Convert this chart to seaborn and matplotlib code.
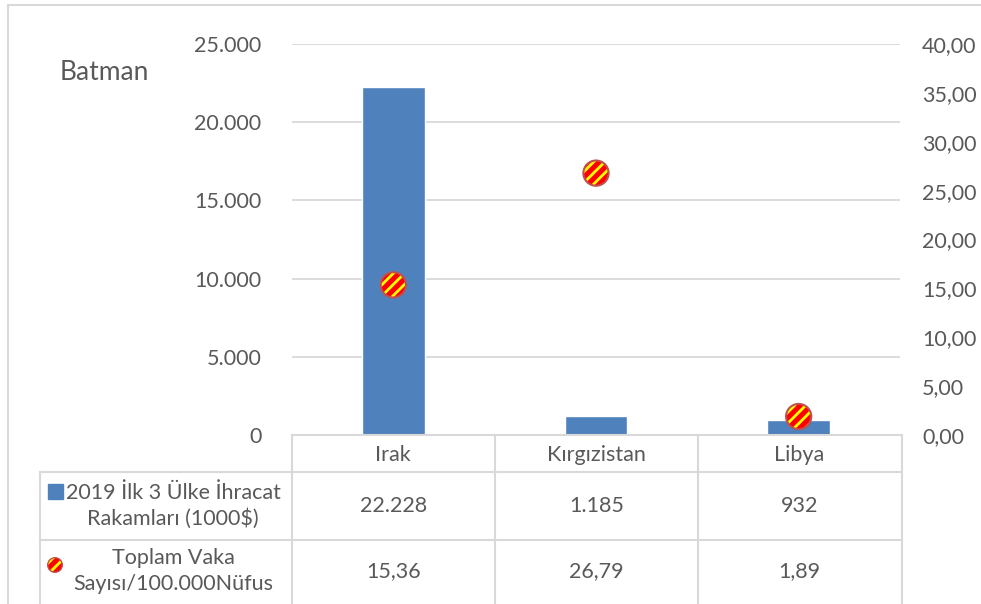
import matplotlib
matplotlib.use("Agg")
import matplotlib.pyplot as plt
from matplotlib.ticker import FuncFormatter, MultipleLocator
from matplotlib.lines import Line2D
from matplotlib.patches import Rectangle
import seaborn as sns

countries = ["Irak", "Kırgızistan", "Libya"]
ihracat = [22228, 1185, 932]
vaka = [15.36, 26.79, 1.89]
bar_label = "2019 İlk 3 Ülke İhracat\nRakamları (1000$)"
dot_label = "Toplam Vaka\nSayısı/100.000Nüfus"
city = "Batman"

BLUE = "#4F81BD"
TXT = "#595959"
GRID = "#D9D9D9"
W, H = 981, 604
FS = 15.5

sns.set_theme(style="white")
plt.rcParams["font.family"] = ["Lato", "DejaVu Sans"]
plt.rcParams["hatch.linewidth"] = 2.0

fig = plt.figure(figsize=(W / 100, H / 100), dpi=100)

def fx(px):
    return px / W

def fy(py):
    return 1 - py / H

x0, x1, ytop, ybot = 292, 900, 44, 435
ax = fig.add_axes([fx(x0), fy(ybot), fx(x1 - x0), fy(ytop) - fy(ybot)])
sns.barplot(x=countries, y=ihracat, color=BLUE, width=0.31, saturation=1, ax=ax)
ax.set_xlim(-0.5, 2.5)
ax.set_ylim(0, 25000)
ax.yaxis.set_major_locator(MultipleLocator(5000))
ax.yaxis.set_major_formatter(FuncFormatter(lambda v, p: f"{v:,.0f}".replace(",", ".")))
ax.grid(axis="y", color=GRID, linewidth=1.3)
ax.set_axisbelow(True)
for s in ax.spines.values():
    s.set_visible(False)
ax.tick_params(axis="y", length=0, labelsize=FS, labelcolor=TXT, pad=22)
ax.tick_params(axis="x", length=0, labelsize=FS, labelcolor=TXT, pad=7)
ax.set_xlabel("")
ax.set_ylabel("")
ax.set_xticks(range(len(countries)))
ax.set_xticklabels(countries)

ax2 = ax.twinx()
sns.scatterplot(x=countries, y=vaka, s=330, color="#FF0000", edgecolor="#FFFF00",
                linewidth=0, ax=ax2, zorder=3)
ax2.collections[0].set_hatch("///")
sns.scatterplot(x=countries, y=vaka, s=330, facecolor="none", edgecolor="#C0504D",
                linewidth=1.5, ax=ax2, zorder=4)
ax2.set_ylim(0, 40)
ax2.yaxis.set_major_locator(MultipleLocator(5))
ax2.yaxis.set_major_formatter(FuncFormatter(lambda v, p: f"{v:.2f}".replace(".", ",")))
for s in ax2.spines.values():
    s.set_visible(False)
ax2.tick_params(axis="y", length=0, labelsize=FS, labelcolor=TXT, pad=16)
ax2.set_ylabel("")
ax2.grid(False)

fig.text(fx(60), fy(73), city, fontsize=19, color=TXT, ha="left", va="center")

# data table
def hline(y, xa, xb):
    fig.add_artist(Line2D([fx(xa), fx(xb)], [fy(y), fy(y)], color=GRID, lw=1.5))

def vline(x, ya, yb):
    fig.add_artist(Line2D([fx(x), fx(x)], [fy(ya), fy(yb)], color=GRID, lw=1.5))

hline(ybot, x0, x1 + 2)
hline(472, 40, x1 + 2)
hline(540, 40, x1 + 2)
for xv in [x0, 495, 698, x1 + 2]:
    vline(xv, ybot, H)
vline(40, 472, H)

# figure frame
hline(5, 8, W)
vline(8, 5, H)

col_centers = [393.5, 596.5, 799.5]
for cx, val in zip(col_centers, ihracat):
    fig.text(fx(cx), fy(506), f"{val:,}".replace(",", "."), fontsize=FS, color=TXT,
             ha="center", va="center")
for cx, val in zip(col_centers, vaka):
    fig.text(fx(cx), fy(571), f"{val:.2f}".replace(".", ","), fontsize=FS, color=TXT,
             ha="center", va="center")

fig.text(fx(173), fy(506), bar_label, fontsize=FS, color=TXT, ha="center", va="center",
         linespacing=1.35)
fig.text(fx(173), fy(571), dot_label, fontsize=FS, color=TXT, ha="center", va="center",
         linespacing=1.35)
fig.add_artist(Rectangle((fx(48), fy(499)), fx(15), fy(484) - fy(499), color=BLUE))
ax2.scatter([fx(55)], [fy(565)], s=110, color="#FF0000", edgecolor="#FFFF00", linewidth=0,
            hatch="///", transform=fig.transFigure, clip_on=False)
ax2.scatter([fx(55)], [fy(565)], s=110, facecolor="none", edgecolor="#C0504D", linewidth=1,
            transform=fig.transFigure, clip_on=False)

fig.savefig("out.png", dpi=100)
